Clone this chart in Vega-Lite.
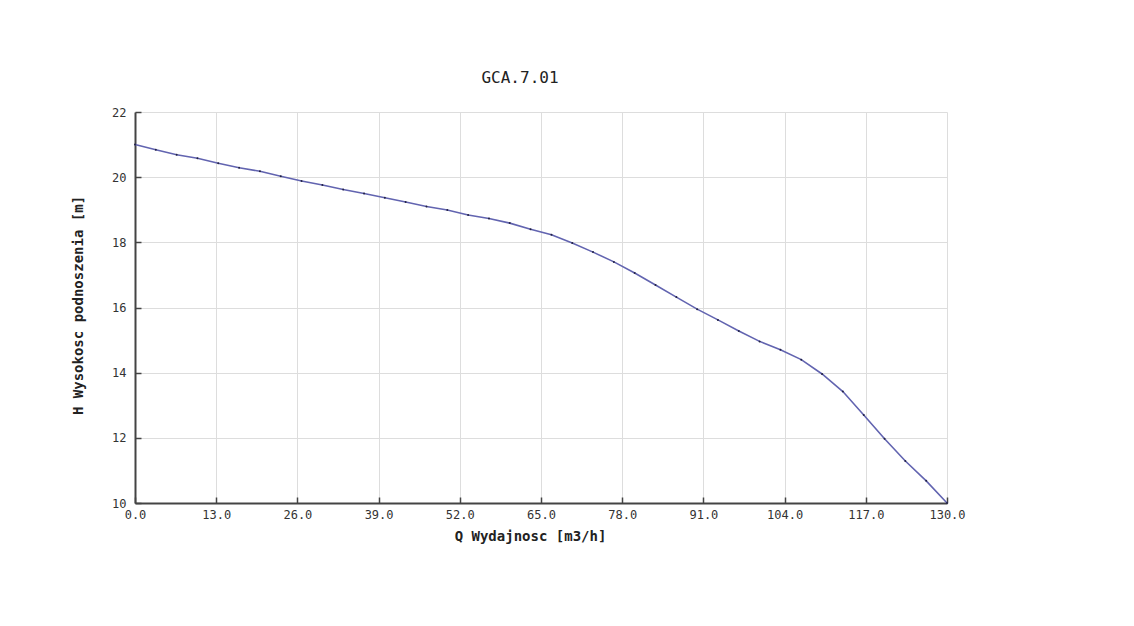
{
  "$schema": "https://vega.github.io/schema/vega-lite/v6.json",
  "description": "Pump curve GCA.7.01: head H vs flow Q.",
  "width": 812,
  "height": 391,
  "autosize": {"type": "none"},
  "padding": {"left": 135, "top": 112, "right": 187, "bottom": 123},
  "background": "white",
  "title": {
    "text": "GCA.7.01",
    "font": "DejaVu Sans Mono",
    "fontSize": 16,
    "fontWeight": "normal",
    "color": "#222222",
    "anchor": "middle",
    "dx": -21,
    "offset": 20
  },
  "config": {
    "view": {"stroke": null},
    "axis": {
      "labelFont": "DejaVu Sans Mono",
      "labelFontSize": 12,
      "labelColor": "#333333",
      "titleFont": "DejaVu Sans Mono",
      "titleFontSize": 14,
      "titleFontWeight": "bold",
      "titleColor": "#222222",
      "gridColor": "#dddddd",
      "gridWidth": 1,
      "domainColor": "#444444",
      "domainWidth": 2,
      "tickColor": "#444444",
      "tickWidth": 1.5,
      "tickSize": -6
    }
  },
  "data": {
    "values": [
      {"q": 0, "h": 21.0},
      {"q": 3.33, "h": 20.84},
      {"q": 6.67, "h": 20.69},
      {"q": 10, "h": 20.58},
      {"q": 13.33, "h": 20.43},
      {"q": 16.67, "h": 20.29},
      {"q": 20, "h": 20.18},
      {"q": 23.33, "h": 20.03},
      {"q": 26.67, "h": 19.88},
      {"q": 30, "h": 19.76},
      {"q": 33.33, "h": 19.62},
      {"q": 36.67, "h": 19.5},
      {"q": 40, "h": 19.37},
      {"q": 43.33, "h": 19.24},
      {"q": 46.67, "h": 19.1},
      {"q": 50, "h": 18.99},
      {"q": 53.33, "h": 18.84},
      {"q": 56.67, "h": 18.73},
      {"q": 60, "h": 18.59},
      {"q": 63.33, "h": 18.4},
      {"q": 66.67, "h": 18.23},
      {"q": 70, "h": 17.98},
      {"q": 73.33, "h": 17.7},
      {"q": 76.67, "h": 17.4},
      {"q": 80, "h": 17.06},
      {"q": 83.33, "h": 16.69},
      {"q": 86.67, "h": 16.32},
      {"q": 90, "h": 15.95},
      {"q": 93.33, "h": 15.62},
      {"q": 96.67, "h": 15.28},
      {"q": 100, "h": 14.96},
      {"q": 103.33, "h": 14.7},
      {"q": 106.67, "h": 14.4},
      {"q": 110, "h": 13.96},
      {"q": 113.33, "h": 13.42},
      {"q": 116.67, "h": 12.7},
      {"q": 120, "h": 11.97},
      {"q": 123.33, "h": 11.29},
      {"q": 126.67, "h": 10.68},
      {"q": 130, "h": 10.0}
    ]
  },
  "encoding": {
    "x": {
      "field": "q",
      "type": "quantitative",
      "title": "Q Wydajnosc [m3/h]",
      "scale": {"domain": [0, 130], "nice": false, "zero": false},
      "axis": {
        "values": [0, 13, 26, 39, 52, 65, 78, 91, 104, 117, 130],
        "format": ".1f",
        "labelPadding": 12,
        "labelFlush": false,
        "titleX": 395,
        "titleY": 33,
        "titleBaseline": "middle"
      }
    },
    "y": {
      "field": "h",
      "type": "quantitative",
      "title": "H Wysokosc podnoszenia [m]",
      "scale": {"domain": [10, 22], "nice": false, "zero": false},
      "axis": {
        "values": [10, 12, 14, 16, 18, 20, 22],
        "labelPadding": 15,
        "labelBaseline": "middle",
        "labelFlush": false,
        "titleX": -57,
        "titleY": 193,
        "titleBaseline": "middle"
      }
    }
  },
  "layer": [
    {
      "mark": {"type": "line", "color": "#6264b0", "strokeWidth": 1.6}
    },
    {
      "mark": {"type": "point", "filled": true, "size": 4, "color": "#222244", "opacity": 1}
    }
  ]
}
